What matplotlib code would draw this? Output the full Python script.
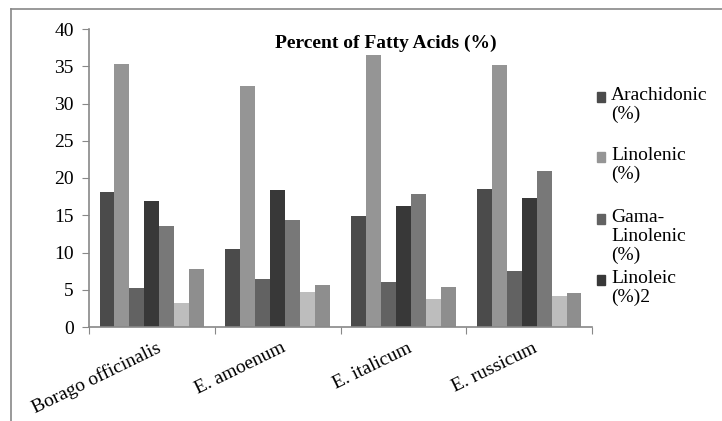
import matplotlib.pyplot as plt
import numpy as np
from matplotlib.lines import Line2D
from matplotlib.patches import Rectangle

plt.rcParams['font.family'] = ['Liberation Serif', 'DejaVu Serif']

species = ['Borago officinalis', 'E. amoenum', 'E. italicum', 'E. russicum']
# only the first four series names show in the legend of the original
series = ['Arachidonic\n(%)', 'Linolenic\n(%)', 'Gama-\nLinolenic\n(%)', 'Linoleic\n(%)2',
          'Series 5', 'Series 6', 'Series 7']
arachidonic = [18.1, 10.5, 14.9, 18.5]
linolenic = [35.3, 32.3, 36.5, 35.2]
gama_linolenic = [5.2, 6.4, 6.0, 7.5]
linoleic = [16.9, 18.4, 16.3, 17.3]
series5 = [13.6, 14.4, 17.8, 20.9]
series6 = [3.2, 4.7, 3.7, 4.1]
series7 = [7.8, 5.6, 5.4, 4.5]
values = [arachidonic, linolenic, gama_linolenic, linoleic, series5, series6, series7]
colors = ['#4b4b4b', '#959595', '#626262', '#383838', '#787878', '#bdbdbd', '#8e8e8e']

fs = 14

fig = plt.figure(figsize=(7.22, 4.21), dpi=100)
ax = fig.add_axes([89/722, 94/421, 503/722, 298/421])

n = len(values)
bw = 0.833 / n
x = np.arange(len(species))
for i, (vals, c) in enumerate(zip(values, colors)):
    ax.bar(x - 0.4165 + bw*(i + 0.5), vals, width=bw, color=c, label=series[i], zorder=2)

ax.set_xlim(-0.5, len(species) - 0.5)
ax.set_ylim(0, 40)
ax.set_yticks(range(0, 41, 5))
ax.tick_params(axis='y', labelsize=fs, length=5, color='#888888', pad=6)
ax.set_xticks(np.arange(-0.5, len(species), 1))
ax.set_xticklabels([])
ax.tick_params(axis='x', length=5, color='#888888')
ax.set_xticks(x + 0.03, minor=True)
ax.set_xticklabels(species, minor=True, rotation=26, ha='right', rotation_mode='anchor', fontsize=fs)
ax.tick_params(axis='x', which='minor', length=0, pad=9)
for s in ['top', 'right']:
    ax.spines[s].set_visible(False)
for s in ['left', 'bottom']:
    ax.spines[s].set_color('#888888')
    ax.spines[s].set_linewidth(1.2)

fig.text(386/722, 1 - 43/421, 'Percent of Fatty Acids (%)', ha='center', va='center',
         fontsize=14, fontweight='bold')

# chart frame
fig.add_artist(Line2D([11/722, 11/722], [0, 1 - 9/421], color='#888888', lw=1.2))
fig.add_artist(Line2D([11/722, 1], [1 - 9/421, 1 - 9/421], color='#888888', lw=1.2))

# legend (first four entries, as in the original)
ys = [97, 157, 219, 280]
for lab, c, y in zip(series[:4], colors[:4], ys):
    fig.add_artist(Rectangle((597/722, 1 - (y + 5)/421), 8/722, 10/421, color=c,
                             transform=fig.transFigure))
    fig.text(611/722, 1 - (y - 10)/421, lab, ha='left', va='top', fontsize=fs, linespacing=1.15)

fig.savefig('out.png', dpi=100)
plt.close()
